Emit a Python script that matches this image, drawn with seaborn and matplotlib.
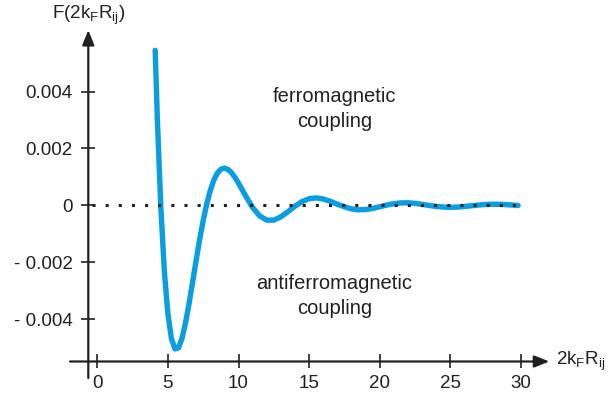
import matplotlib
matplotlib.use("Agg")
import matplotlib.pyplot as plt
import seaborn as sns
import pandas as pd

# ---- data ----
distance = [4.1, 4.25, 4.5, 4.75, 5.0, 5.25, 5.5, 5.75, 6.0, 6.25, 6.5, 6.75,
            7.0, 7.25, 7.5, 7.75, 8.0, 8.25, 8.5, 8.75, 9.0, 9.25, 9.5, 9.75,
            10.0, 10.5, 11.0, 11.5, 12.0, 12.5, 13.0, 13.5, 14.0, 14.5, 15.0,
            15.5, 16.0, 16.5, 17.0, 17.5, 18.0, 18.5, 19.0, 19.5, 20.0, 20.5,
            21.0, 21.5, 22.0, 22.5, 23.0, 23.5, 24.0, 24.5, 25.0, 25.5, 26.0,
            26.5, 27.0, 27.5, 28.0, 28.5, 29.0, 29.5, 29.8]
rkky = [0.005444, 0.003068, -0.000071, -0.002314, -0.003804, -0.004670,
        -0.005031, -0.004995, -0.004661, -0.004116, -0.003436, -0.002687,
        -0.001924, -0.001191, -0.000525, 0.000053, 0.000526, 0.000887,
        0.001133, 0.001272, 0.001313, 0.001268, 0.001154, 0.000987,
        0.000785, 0.000338, -0.000072, -0.000368, -0.000514, -0.000514,
        -0.000398, -0.000218, -0.000024, 0.000138, 0.000238, 0.000267,
        0.000229, 0.000147, 0.000045, -0.000044, -0.000120, -0.000152,
        -0.000143, -0.000103, -0.000045, 0.000016, 0.000063, 0.000091,
        0.000094, 0.000075, 0.000041, 0.000002, -0.000033, -0.000056,
        -0.000064, -0.000056, -0.000035, -0.000009, 0.000017, 0.000036,
        0.000044, 0.000042, 0.000030, 0.000012, 0.000000]
x_ticks = [0, 5, 10, 15, 20, 25, 30]
x_tick_labels = ["0", "5", "10", "15", "20", "25", "30"]
y_ticks = [0.004, 0.002, 0.0, -0.002, -0.004]
y_tick_labels = ["0.004", "0.002", "0", "- 0.002", "- 0.004"]
zero_line_x = [-0.4, 30.0]
zero_line_y = [0.0, 0.0]

df = pd.DataFrame({"x": distance, "F": rkky})

sns.set_theme(style="white")
plt.rcParams["font.family"] = ["Liberation Sans", "DejaVu Sans"]
plt.rcParams["mathtext.fontset"] = "custom"
plt.rcParams["mathtext.rm"] = "Liberation Sans"
plt.rcParams["mathtext.it"] = "Liberation Sans"

ink = "#231f20"
blue = "#0a9de0"

fig = plt.figure(figsize=(6.11, 3.96), dpi=100)
ax = fig.add_axes([70 / 611, 18 / 396, 479.3 / 611, 348 / 396])

x_lo, x_hi = -1.933, 32.01
y_lo, y_hi = -0.006053, 0.006158
x_axis_at = -0.005474
y_axis_at = -0.637
ax.set_xlim(x_lo, x_hi)
ax.set_ylim(y_lo, y_hi)

sns.lineplot(data=df, x="x", y="F", ax=ax, color=blue, linewidth=3.9,
             sort=False, estimator=None, zorder=2)
ax.plot(zero_line_x, zero_line_y, color=ink, linewidth=2.2,
        linestyle=(0, (1, 3.3)), dash_capstyle="butt", zorder=3)

for s in ax.spines.values():
    s.set_visible(False)
ax.spines["left"].set_position(("data", y_axis_at))
ax.spines["bottom"].set_position(("data", x_axis_at))

ax.set_xticks(x_ticks)
ax.set_xticklabels(x_tick_labels)
ax.set_yticks(y_ticks)
ax.set_yticklabels(y_tick_labels)
ax.tick_params(axis="both", direction="inout", length=10.5, width=1.2,
               color=ink, labelcolor=ink, labelsize=13.5, left=True, bottom=True)
ax.tick_params(axis="y", pad=6)
ax.tick_params(axis="x", pad=4.5)
ax.set_xlabel("")
ax.set_ylabel("")

arrow = dict(arrowstyle="-|>,head_length=0.75,head_width=0.3", lw=1.6,
             color=ink, shrinkA=0, shrinkB=0)
ax.annotate("", xy=(x_hi, x_axis_at), xytext=(x_lo, x_axis_at),
            arrowprops=arrow, annotation_clip=False, zorder=4)
ax.annotate("", xy=(y_axis_at, y_hi), xytext=(y_axis_at, y_lo),
            arrowprops=arrow, annotation_clip=False, zorder=4)

ax.text(y_axis_at, 0.006561, r"F(2k$_\mathrm{F}$R$_\mathrm{ij}$)",
        ha="center", va="baseline", fontsize=13.5, color=ink)
ax.text(x_hi + 0.5, x_axis_at, r"2k$_\mathrm{F}$R$_\mathrm{ij}$",
        ha="left", va="center", fontsize=13.5, color=ink)

ax.text(16.8, 0.00338, "ferromagnetic\ncoupling", ha="center", va="center",
        fontsize=14.5, color=ink, linespacing=1.4)
ax.text(16.8, -0.00318, "antiferromagnetic\ncoupling", ha="center",
        va="center", fontsize=14.5, color=ink, linespacing=1.4)

fig.savefig("out.png", dpi=100)
